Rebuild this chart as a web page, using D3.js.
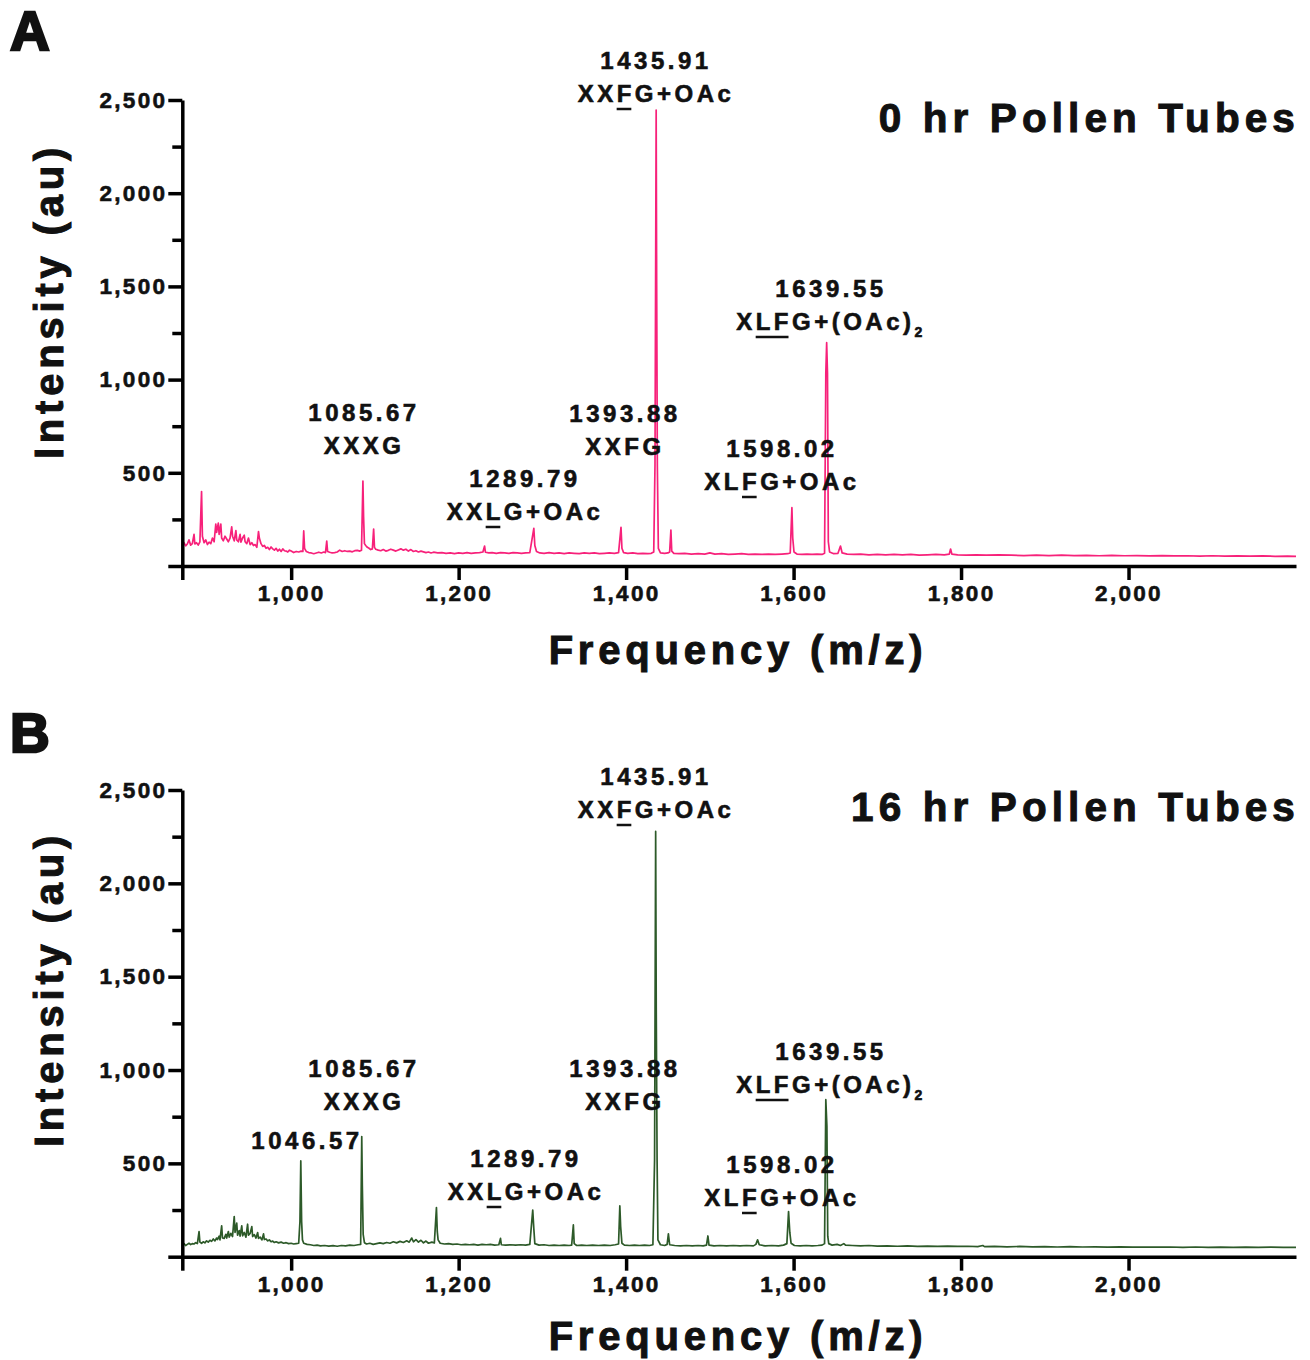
<!DOCTYPE html>
<html>
<head>
<meta charset="utf-8">
<title>Pollen tube spectra</title>
<script src="https://d3js.org/d3.v7.min.js"></script>
<style>
  body { margin: 0; background: #fff; }
  svg { display: block; font-family: "Liberation Sans", Arial, sans-serif; font-weight: bold; }
  text { fill: #111; stroke: #111; stroke-width: 0.6px; }
</style>
</head>
<body>
<svg id="chart" width="1310" height="1360"></svg>
<script>

// ---- data ----
var mzDomain = [870, 2200];
var intensityDomain = [0, 2500];
var xTicks = [870, 1000, 1200, 1400, 1600, 1800, 2000];
var yTicks = [0, 500, 1000, 1500, 2000, 2500];
var yMinorTicks = [250, 750, 1250, 1750, 2250];

var panelLetters = ["A", "B"];
var panelTitles = ["0 hr Pollen Tubes", "16 hr Pollen Tubes"];
var xTitle = "Frequency (m/z)";
var yTitle = "Intensity (au)";

// [m/z, intensity]
var spectrumA = [
  [870,110],[872,125],[874,108],[876,118],[878,140],[880,112],[882,120],[884,170],[885,118],[887,125],
  [889,112],[891,130],[893,399],[894,160],[896,125],[898,140],[900,115],[902,128],[904,120],[906,150],
  [908,130],[910,225],[911,180],[913,230],[914,170],[916,225],[917,150],[919,135],[921,160],[923,145],
  [925,130],[927,150],[929,210],[930,160],[932,135],[934,190],[935,140],[937,130],[939,170],[940,128],
  [942,150],[944,165],[945,130],[947,120],[949,150],[951,115],[953,125],[955,110],[957,115],[959,100],
  [961,185],[962,150],[964,120],[966,105],[968,110],[970,95],[972,100],[974,88],[976,102],[978,92],
  [980,85],[982,95],[984,80],[986,90],[988,78],[990,92],[992,82],[994,80],[996,75],[998,85],
  [1000,80],[1003,72],[1006,78],[1009,75],[1012,80],[1014,78],[1015,188],[1016,95],[1018,78],[1021,72],
  [1024,70],[1027,66],[1030,70],[1033,74],[1036,70],[1039,75],[1041,72],[1042.5,134],[1043.5,78],[1046,74],
  [1049,70],[1052,72],[1055,75],[1058,85],[1061,78],[1064,82],[1067,78],[1070,80],[1073,76],[1076,82],
  [1079,84],[1082,80],[1084,85],[1085.7,456],[1086.5,263],[1087.5,120],[1089,110],[1091,100],[1093,95],[1095,88],
  [1097,92],[1098.5,198],[1099.5,100],[1101,90],[1104,85],[1107,82],[1110,88],[1113,80],[1116,84],[1119,90],
  [1122,85],[1125,80],[1128,86],[1131,92],[1134,85],[1137,90],[1140,80],[1143,88],[1146,78],[1149,82],
  [1152,75],[1155,80],[1158,76],[1161,72],[1164,75],[1167,70],[1170,74],[1175,70],[1180,72],[1185,68],
  [1190,70],[1195,66],[1200,70],[1205,68],[1210,72],[1215,68],[1220,70],[1225,72],[1229,75],[1231,107],
  [1232,74],[1236,70],[1240,72],[1245,68],[1250,72],[1255,70],[1260,68],[1265,72],[1270,70],[1275,68],
  [1280,70],[1285,72],[1289.8,202],[1291,110],[1293,78],[1297,70],[1302,68],[1308,72],[1314,68],[1320,70],
  [1326,66],[1332,70],[1338,68],[1344,66],[1350,70],[1356,68],[1362,70],[1368,66],[1374,68],[1380,70],
  [1386,68],[1391,72],[1393.9,208],[1395,95],[1397,72],[1402,68],[1408,70],[1414,66],[1420,68],[1426,66],
  [1430,68],[1433,75],[1434.5,542],[1435.9,2446],[1436.5,1507],[1437.3,542],[1438.5,95],[1441,70],[1446,68],[1450,70],
  [1452,75],[1453.5,193],[1454.5,80],[1457,68],[1463,66],[1470,68],[1478,64],[1486,66],[1494,64],[1500,70],
  [1506,64],[1514,66],[1522,62],[1530,64],[1538,66],[1546,62],[1554,64],[1562,62],[1570,64],[1578,62],
  [1586,64],[1593,66],[1596,70],[1598,313],[1599,150],[1600.5,75],[1604,64],[1610,62],[1616,64],[1622,62],
  [1628,64],[1634,62],[1637,68],[1638.5,1035],[1639.5,1198],[1640.5,1035],[1641.5,130],[1643,75],[1648,66],[1653,68],
  [1656,107],[1658,70],[1664,64],[1672,62],[1680,64],[1690,60],[1700,62],[1710,60],[1720,62],[1730,60],
  [1740,62],[1750,58],[1760,60],[1770,62],[1780,60],[1786,64],[1787.5,91],[1789,64],[1796,60],[1806,58],
  [1818,60],[1830,58],[1845,60],[1860,58],[1875,56],[1890,58],[1905,56],[1920,58],[1935,56],[1950,57],
  [1965,55],[1980,57],[1995,55],[2010,56],[2025,54],[2040,56],[2055,54],[2070,55],[2085,53],[2100,55],
  [2115,53],[2130,54],[2145,53],[2160,54],[2175,52],[2190,53],[2200,52]
];

var spectrumB = [
  [870,62],[872,70],[874,60],[876,66],[878,72],[880,65],[882,70],[884,68],[886,75],[888,70],
  [890,134],[891,78],[893,72],[895,80],[897,74],[899,85],[901,78],[903,88],[905,82],[907,95],
  [909,85],[911,100],[912,92],[914,110],[915,90],[917,165],[918,100],[920,98],[922,120],[923,100],
  [925,135],[926,105],[928,125],[930,108],[932,215],[933,130],[935,180],[936,115],[938,140],[939,110],
  [941,165],[942,112],[944,130],[946,105],[948,174],[949,115],[951,125],[953,161],[954,108],[956,118],
  [958,100],[960,129],[961,98],[963,105],[965,90],[967,122],[968,92],[970,95],[972,85],[974,90],
  [976,80],[978,84],[980,76],[982,80],[985,74],[988,78],[991,72],[994,75],[997,70],[1000,72],
  [1003,68],[1006,70],[1009,72],[1010.5,188],[1011.5,513],[1012.5,188],[1013.5,90],[1015,72],[1019,66],[1023,64],
  [1027,60],[1031,62],[1035,58],[1040,60],[1045,57],[1050,59],[1055,56],[1060,60],[1065,58],[1070,62],
  [1075,60],[1080,64],[1083,66],[1084.3,644],[1085,379],[1086,120],[1087.5,75],[1090,68],[1094,72],[1098,66],
  [1102,70],[1106,74],[1110,70],[1114,76],[1118,72],[1122,80],[1126,74],[1130,82],[1134,76],[1138,85],
  [1141,78],[1144,100],[1146,80],[1149,92],[1152,78],[1155,88],[1158,74],[1161,84],[1164,72],[1168,78],
  [1171,74],[1173.5,263],[1174.5,134],[1175.5,90],[1178,72],[1183,68],[1188,70],[1193,66],[1198,68],[1203,64],
  [1208,66],[1213,64],[1218,66],[1223,62],[1228,66],[1233,64],[1238,66],[1243,62],[1248,64],[1250,98],
  [1251,64],[1256,62],[1262,64],[1268,62],[1274,64],[1280,62],[1285,66],[1288.5,250],[1289.8,150],[1291,70],
  [1296,62],[1302,64],[1308,60],[1314,62],[1320,60],[1326,62],[1332,60],[1335,62],[1337,170],[1338,70],
  [1341,60],[1347,62],[1353,60],[1360,62],[1367,60],[1374,62],[1381,60],[1387,64],[1391,68],[1392.5,272],
  [1393.5,160],[1395,72],[1398,62],[1404,60],[1410,62],[1416,60],[1422,62],[1428,60],[1432,64],[1434,518],
  [1435.3,2278],[1436,1323],[1437,518],[1438,90],[1441,64],[1446,60],[1449,66],[1450.5,122],[1452,64],[1458,60],
  [1465,58],[1472,60],[1479,58],[1486,60],[1492,58],[1496,62],[1497.7,111],[1499,62],[1505,58],[1512,60],
  [1520,58],[1528,60],[1536,58],[1544,60],[1552,58],[1555,66],[1557,90],[1559,64],[1566,58],[1574,60],
  [1582,58],[1588,62],[1592,70],[1594,242],[1595.5,130],[1597,72],[1601,60],[1608,58],[1615,60],[1622,58],
  [1629,60],[1634,62],[1637,70],[1638.5,841],[1639.8,700],[1640.8,110],[1642,70],[1646,62],[1652,66],[1656,60],
  [1660,70],[1662,62],[1670,60],[1680,58],[1690,60],[1700,57],[1712,58],[1724,56],[1736,58],[1748,55],
  [1760,57],[1772,55],[1784,57],[1796,55],[1808,56],[1820,54],[1826,60],[1828,54],[1840,55],[1855,53],
  [1870,55],[1885,53],[1900,54],[1915,52],[1930,54],[1945,52],[1960,53],[1975,51],[1990,53],[2005,51],
  [2020,52],[2035,51],[2050,52],[2065,50],[2080,52],[2095,50],[2110,51],[2125,50],[2140,51],[2155,50],
  [2170,51],[2185,50],[2200,50]
];

// peak labels: [mass, assignment]; [..] = underlined, _x = subscript
var peakLabelsA = [
  ["1085.67", "XXXG"],
  ["1289.79", "XX[L]G+OAc"],
  ["1393.88", "XXFG"],
  ["1435.91", "XX[F]G+OAc"],
  ["1598.02", "XL[F]G+OAc"],
  ["1639.55", "X[LF]G+(OAc)_2"]
];
var peakLabelsB = [
  ["1046.57", ""],
  ["1085.67", "XXXG"],
  ["1289.79", "XX[L]G+OAc"],
  ["1393.88", "XXFG"],
  ["1435.91", "XX[F]G+OAc"],
  ["1598.02", "XL[F]G+OAc"],
  ["1639.55", "X[LF]G+(OAc)_2"]
];

// ---- layout ----
var plotLeft = 182.3, plotRight = 1296;
var panels = [
  { top: 100, bottom: 566, color: "#f7217a", data: spectrumA, labels: peakLabelsA,
    letterY: 50, titleY: 132, yTitleY: 301, xTitleY: 664,
    labelPos: [[362,421],[523,487],[623,422],[654,69],[780,457],[829,297]] },
  { top: 790, bottom: 1256.7, color: "#2d5a29", data: spectrumB, labels: peakLabelsB,
    letterY: 752, titleY: 821, yTitleY: 989, xTitleY: 1350,
    labelPos: [[305,1149],[362,1077],[524,1167],[623,1077],[654,785],[780,1173],[829,1060]] }
];

var svg = d3.select("#chart");

panels.forEach(function(p, i) { drawPanel(p, i); });

function drawPanel(p, i) {
  var x = d3.scaleLinear().domain(mzDomain).range([plotLeft, plotRight]);
  var y = d3.scaleLinear().domain(intensityDomain).range([p.bottom, p.top]);
  var g = svg.append("g");

  var line = d3.line()
    .x(function(d) { return x(d[0]); })
    .y(function(d) { return y(d[1]); });

  g.append("path")
    .datum(p.data)
    .attr("d", line)
    .attr("fill", "none")
    .attr("stroke", p.color)
    .attr("stroke-width", 1.7)
    .attr("stroke-linejoin", "round");

  // y axis
  g.append("g")
    .attr("transform", "translate(" + plotLeft + ",0)")
    .call(d3.axisLeft(y).tickValues(yTicks).tickSize(14).tickSizeOuter(0).tickPadding(1)
      .tickFormat(function(d) { return d === 0 ? "" : d3.format(",")(d); }));
  g.append("g")
    .attr("transform", "translate(" + plotLeft + ",0)")
    .call(d3.axisLeft(y).tickValues(yMinorTicks).tickSize(10).tickFormat(""))
    .call(function(a) { a.select(".domain").remove(); });

  // x axis
  g.append("g")
    .attr("transform", "translate(0," + p.bottom + ")")
    .call(d3.axisBottom(x).tickValues(xTicks).tickSize(14).tickSizeOuter(0).tickPadding(5)
      .tickFormat(function(d) { return d === 870 ? "" : d3.format(",")(d); }));

  g.selectAll(".domain, .tick line")
    .attr("stroke", "#000")
    .attr("stroke-width", 3.5);
  g.selectAll(".tick text")
    .style("font-family", "'Liberation Sans', Arial, sans-serif")
    .style("font-weight", "bold")
    .style("font-size", "22.5px")
    .style("letter-spacing", "2.3px");

  // axis titles
  g.append("text")
    .attr("x", 738).attr("y", p.xTitleY)
    .attr("text-anchor", "middle")
    .style("font-size", "40px").style("letter-spacing", "4.8px").style("stroke-width", "1px")
    .text(xTitle);
  g.append("text")
    .attr("transform", "translate(63," + p.yTitleY + ") rotate(-90)")
    .attr("text-anchor", "middle")
    .style("font-size", "40px").style("letter-spacing", "4.8px").style("stroke-width", "1px")
    .text(yTitle);

  // panel letter and title
  g.append("text")
    .attr("x", 10).attr("y", p.letterY)
    .style("font-size", "55px").style("stroke-width", "2.5px")
    .text(panelLetters[i]);
  g.append("text")
    .attr("x", 1300).attr("y", p.titleY)
    .attr("text-anchor", "end")
    .style("font-size", "40.5px").style("letter-spacing", "5.1px").style("stroke-width", "1px")
    .text(panelTitles[i]);

  // peak labels
  p.labels.forEach(function(lab, k) {
    var pos = p.labelPos[k];
    addLabel(g, lab[0], pos[0], pos[1]);
    if (lab[1]) addLabel(g, lab[1], pos[0], pos[1] + 33);
  });
}

function addLabel(g, str, cx, by) {
  var t = g.append("text")
    .attr("x", cx + 2).attr("y", by)
    .attr("text-anchor", "middle")
    .style("font-size", "24px").style("letter-spacing", "3.5px");
  var plain = "", under = [], inU = false, sub = "";
  for (var c = 0; c < str.length; c++) {
    var ch = str[c];
    if (ch === "[") { inU = true; continue; }
    if (ch === "]") { inU = false; continue; }
    if (ch === "_") { sub = str.slice(c + 1); break; }
    if (inU) under.push(plain.length);
    plain += ch;
  }
  t.append("tspan").text(plain);
  if (sub) {
    t.append("tspan").attr("dy", 7).style("font-size", "14px").text(sub);
  }
  if (under.length) {
    var node = t.node();
    var a = node.getExtentOfChar(under[0]);
    var b = node.getExtentOfChar(under[under.length - 1]);
    g.append("line")
      .attr("x1", a.x).attr("x2", b.x + b.width - 3.5)
      .attr("y1", by + 7).attr("y2", by + 7)
      .attr("stroke", "#111").attr("stroke-width", 2.5);
  }
}
</script>
</body>
</html>
